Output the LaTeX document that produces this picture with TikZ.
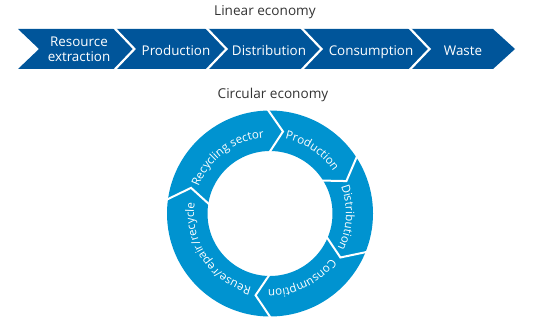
\documentclass[tikz,border=0pt]{standalone}
\usepackage{fontspec}
\setmainfont{Open Sans}
\usetikzlibrary{decorations.text,calc}
\definecolor{darkblue}{HTML}{00559A}
\definecolor{ringblue}{HTML}{0093D0}
\definecolor{titlegray}{HTML}{333333}
\newcommand{\labfont}{\fontsize{13.4}{15}\selectfont}
\newcommand{\ringfont}{\fontsize{11.6}{14}\selectfont}
\tikzset{
  titletext/.style={text=titlegray, font=\fontsize{13.6}{15}\selectfont, inner sep=0pt},
  lintext/.style={text=white, font=\labfont, inner sep=0pt, anchor=base},
  sepline/.style={draw=white, line width=2.2pt, line join=miter},
  ringsep/.style={draw=white, line width=2pt, line join=miter},
  ringlabel/.style={decorate, decoration={text along path, text align=center, text={|\ringfont\color{white}|#1}}}
}
\newcommand{\ringtext}[2]{%
  \path[ringlabel={#2}] ($(c)+(#1+60:76)$) arc[start angle=#1+60, end angle=#1-60, radius=76];}
\begin{document}
\begin{tikzpicture}[x=1pt,y=1pt]
\useasboundingbox (0,0) rectangle (540,316);
% Linear economy
\node[titletext] (lt) at (265,304) {Linear economy};
\fill[darkblue] (18,287) -- (493,287) -- (515,267) -- (493,247) -- (18,247) -- (39,267) -- cycle;
\foreach \x in {113.4,205.5,300.5,408.5}{
  \draw[sepline] (\x,289) -- (\x+21,267) -- (\x,245);
}
\node[lintext] (l1a) at (79,269.3) {Resource};
\node[lintext] (l1b) at (79,254.5) {extraction};
\node[lintext] (l2) at (176,260) {Production};
\node[lintext] (l3) at (269,260) {Distribution};
\node[lintext] (l4) at (371,260) {Consumption};
\node[lintext] (l5) at (463,260) {Waste};
% Circular economy
\node[titletext] (ct) at (273,221) {Circular economy};
\coordinate (c) at (270,102.5);
\fill[ringblue, even odd rule] (c) circle[radius=103] (c) circle[radius=62.5];
\foreach \a in {92,34,-21,-89,173}{
  \draw[ringsep] ($(c)+(\a:106)$) -- ($(c)+(\a-11:83)$) -- ($(c)+(\a:59)$);
}
\ringtext{127}{Recycling sector}
\ringtext{56}{Production}
\ringtext{-3}{Distribution}
\ringtext{-64}{Consumption}
\ringtext{-146}{Reuse/repair/recycle}
\end{tikzpicture}
\end{document}
